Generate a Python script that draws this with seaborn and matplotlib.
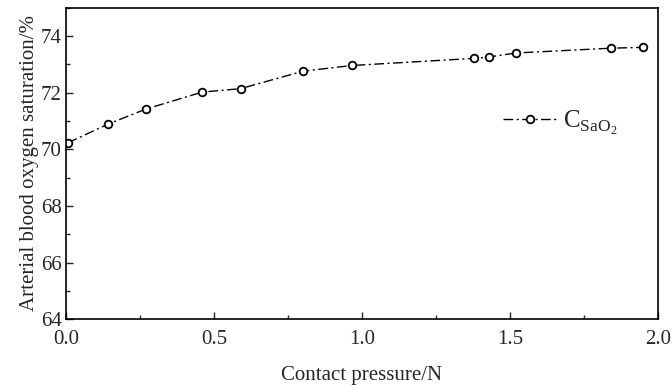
import numpy as np
import pandas as pd
import matplotlib
matplotlib.use('Agg')
import matplotlib.pyplot as plt
import seaborn as sns
from matplotlib.ticker import MultipleLocator

# data
pressure = [0.007, 0.141, 0.270, 0.461, 0.590, 0.802, 0.968, 1.379, 1.430, 1.520, 1.841, 1.950]
saturation = [70.23, 70.88, 71.42, 72.02, 72.14, 72.76, 72.96, 73.21, 73.26, 73.40, 73.57, 73.60]
x_label = 'Contact pressure/N'
y_label = 'Arterial blood oxygen saturation/%'
series_label = r'$\mathrm{C}_{\mathrm{SaO}_2}$'

df = pd.DataFrame({'pressure': pressure, 'saturation': saturation})

sns.set_style('ticks')
plt.rcParams['font.family'] = ['Liberation Serif', 'DejaVu Serif']
plt.rcParams['mathtext.fontset'] = 'custom'
plt.rcParams['mathtext.rm'] = 'Liberation Serif'

fig, ax = plt.subplots(figsize=(6.72, 3.85), dpi=100)
fig.subplots_adjust(left=0.098, right=0.979, top=0.98, bottom=0.171)

sns.lineplot(data=df, x='pressure', y='saturation', ax=ax, color='black',
             linestyle=(0, (7, 2.5, 1.5, 2.5)), linewidth=1.0, marker='o', markersize=5.5,
             markerfacecolor='white', markeredgecolor='black', markeredgewidth=1.3,
             label=series_label)

ax.set_xlim(0, 2.0)
ax.set_ylim(64, 75)
ax.xaxis.set_major_locator(MultipleLocator(0.5))
ax.xaxis.set_minor_locator(MultipleLocator(0.25))
ax.yaxis.set_major_locator(MultipleLocator(2))
ax.yaxis.set_minor_locator(MultipleLocator(1))
ax.tick_params(which='both', direction='in', labelsize=15, top=False, right=False)
ax.tick_params(which='major', length=5, width=1)
ax.tick_params(which='minor', length=3, width=1)
ax.tick_params(axis='x', pad=8)
ax.tick_params(axis='y', pad=3)
for s in ax.spines.values():
    s.set_linewidth(1.2)
    s.set_color('black')

ax.set_xlabel(x_label, fontsize=15, labelpad=12)
ax.set_ylabel(y_label, fontsize=15, labelpad=1)

ax.legend(loc='center left', bbox_to_anchor=(0.70, 0.63), frameon=False,
          fontsize=18, handlelength=2.2, handletextpad=0.2)

fig.savefig('out.png', dpi=100)
